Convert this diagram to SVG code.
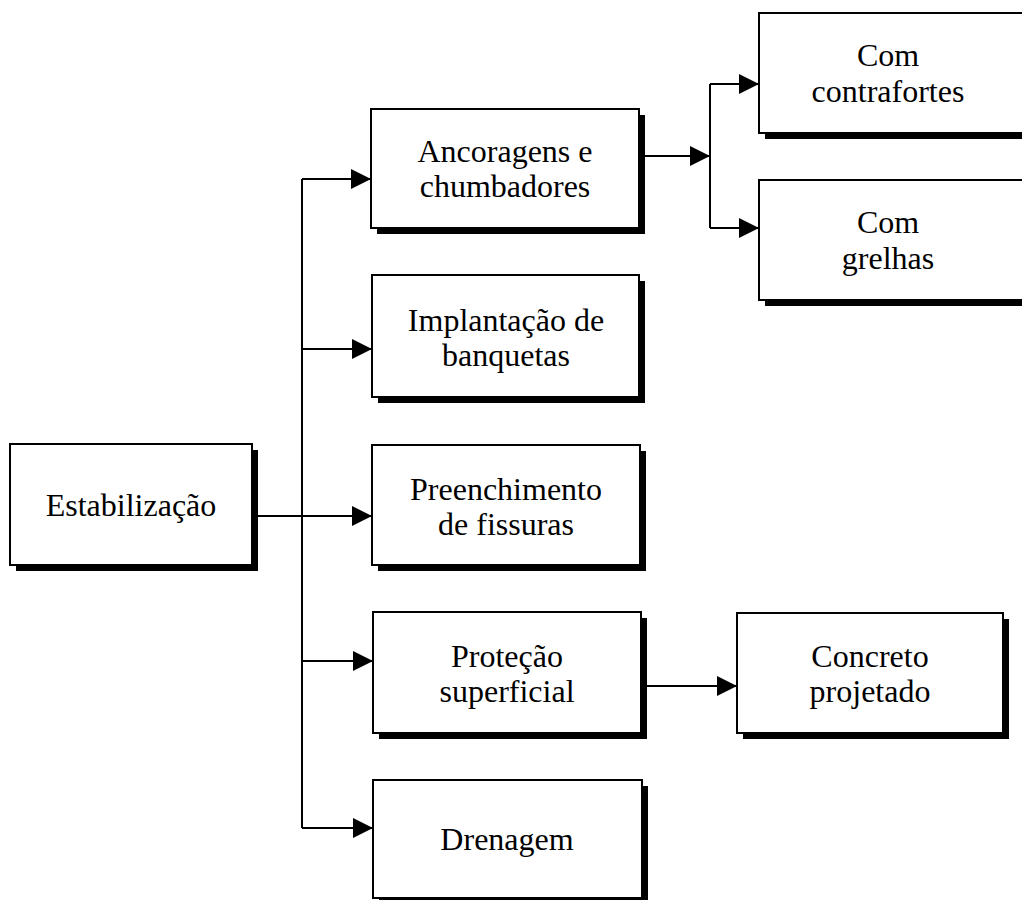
<svg xmlns="http://www.w3.org/2000/svg" width="1022" height="900" viewBox="0 0 1022 900">
<style>
.box{fill:#fff;stroke:#000;stroke-width:2}
.sh{fill:#000}
.t{font-family:"Liberation Serif","Times New Roman",serif;font-size:32px;fill:#000;text-anchor:middle}
.c{fill:none;stroke:#000;stroke-width:2}
</style>
<defs>
<marker id="ah" markerWidth="20" markerHeight="20" viewBox="0 0 20 20" refX="20" refY="10" markerUnits="userSpaceOnUse" orient="auto">
<path d="M0,0 L20,10 L0,20 Z" fill="#000"/>
</marker>
</defs>
<rect width="1022" height="900" fill="#fff"/>
<g id="connectors">
<line class="c" x1="258" y1="516" x2="372" y2="516" marker-end="url(#ah)"/>
<line class="c" x1="302" y1="179" x2="302" y2="828"/>
<line class="c" x1="302" y1="179" x2="371" y2="179" marker-end="url(#ah)"/>
<line class="c" x1="302" y1="349" x2="372" y2="349" marker-end="url(#ah)"/>
<line class="c" x1="302" y1="661" x2="373" y2="661" marker-end="url(#ah)"/>
<line class="c" x1="302" y1="828" x2="373" y2="828" marker-end="url(#ah)"/>
<line class="c" x1="645" y1="156" x2="710" y2="156" marker-end="url(#ah)"/>
<line class="c" x1="710" y1="84" x2="710" y2="228"/>
<line class="c" x1="710" y1="84" x2="759" y2="84" marker-end="url(#ah)"/>
<line class="c" x1="710" y1="228" x2="759" y2="228" marker-end="url(#ah)"/>
<line class="c" x1="647" y1="686" x2="737" y2="686" marker-end="url(#ah)"/>
</g>
<g id="n-estabilizacao">
<rect class="sh" x="16" y="450" width="242" height="121"/>
<rect class="box" x="10" y="444" width="242" height="121"/>
<text class="t" x="131" y="516">Estabilização</text>
</g>
<g id="n-ancoragens">
<rect class="sh" x="377" y="115" width="268" height="119"/>
<rect class="box" x="371" y="109" width="268" height="119"/>
<text class="t" x="505" y="162">Ancoragens e</text>
<text class="t" x="505" y="197">chumbadores</text>
</g>
<g id="n-implantacao">
<rect class="sh" x="378" y="281" width="267" height="122"/>
<rect class="box" x="372" y="275" width="267" height="122"/>
<text class="t" x="506" y="331">Implantação de</text>
<text class="t" x="506" y="366">banquetas</text>
</g>
<g id="n-preenchimento">
<rect class="sh" x="378" y="451" width="268" height="120"/>
<rect class="box" x="372" y="445" width="268" height="120"/>
<text class="t" x="506" y="500">Preenchimento</text>
<text class="t" x="506" y="535">de fissuras</text>
</g>
<g id="n-protecao">
<rect class="sh" x="379" y="618" width="268" height="121"/>
<rect class="box" x="373" y="612" width="268" height="121"/>
<text class="t" x="507" y="667">Proteção</text>
<text class="t" x="507" y="702">superficial</text>
</g>
<g id="n-drenagem">
<rect class="sh" x="379" y="786" width="269" height="118"/>
<rect class="box" x="373" y="780" width="269" height="118"/>
<text class="t" x="507" y="850">Drenagem</text>
</g>
<g id="n-contrafortes">
<rect class="sh" x="765" y="19" width="270" height="120"/>
<rect class="box" x="759" y="13" width="270" height="120"/>
<text class="t" x="888" y="66">Com</text>
<text class="t" x="888" y="102">contrafortes</text>
</g>
<g id="n-grelhas">
<rect class="sh" x="765" y="186" width="270" height="120"/>
<rect class="box" x="759" y="180" width="270" height="120"/>
<text class="t" x="888" y="233">Com</text>
<text class="t" x="888" y="269">grelhas</text>
</g>
<g id="n-concreto">
<rect class="sh" x="743" y="619" width="266" height="120"/>
<rect class="box" x="737" y="613" width="266" height="120"/>
<text class="t" x="870" y="667">Concreto</text>
<text class="t" x="870" y="702">projetado</text>
</g>
</svg>
